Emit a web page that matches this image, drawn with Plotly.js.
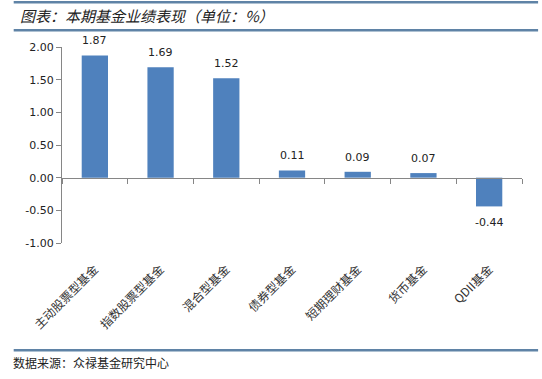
<!DOCTYPE html>
<html><head><meta charset="utf-8">
<script src="https://cdn.plot.ly/plotly-3.0.1.min.js"></script>
<style>html,body{margin:0;padding:0;background:#fff;}#chart{width:542px;height:379px;}</style>
</head><body><div id="chart"></div>
<script>
const categories = ["主动股票型基金","指数股票型基金","混合型基金","债券型基金","短期理财基金","货币基金","QDII基金"];
const values = [1.87, 1.69, 1.52, 0.11, 0.09, 0.07, -0.44];
const yTicks = [-1, -0.5, 0, 0.5, 1, 1.5, 2];
const titleText = "图表：本期基金业绩表现（单位：%）";
const sourceText = "数据来源：众禄基金研究中心";

const lineColor = "#5f83a6";
const traces = [
  {type:"bar", x:categories, y:values, xaxis:"x", yaxis:"y",
   marker:{color:"#4f81bd", line:{width:0}}, width:0.4, hoverinfo:"skip"},
  {type:"bar", x:categories, y:values, xaxis:"x2", yaxis:"y",
   marker:{color:"rgba(0,0,0,0)"}, width:0.4, hoverinfo:"skip", showlegend:false}
];
const labelAnns = categories.map((c,i)=>({
  x:c, y:values[i], xref:"x", yref:"y", text:values[i].toFixed(2), showarrow:false,
  yanchor: values[i] >= 0 ? "bottom" : "top", yshift: values[i] >= 0 ? 6 : -8,
  font:{family:"DejaVu Sans", size:11, color:"#222"}
}));
const layout = {
  width:542, height:379, showlegend:false,
  paper_bgcolor:"#fff", plot_bgcolor:"#fff",
  margin:{l:62, r:20, t:47, b:136},
  bargap:0.6,
  xaxis:{type:"category", showline:false, ticks:"", tickangle:-45, ticklabelstandoff:16,
    tickfont:{family:"Noto Sans CJK SC", size:12, color:"#333"}, showgrid:false, zeroline:false},
  xaxis2:{type:"category", overlaying:"x", matches:"x", anchor:"free", position:1/3,
    showline:true, linecolor:"#868686", linewidth:1, ticks:"outside", ticklen:5, tickcolor:"#868686",
    tickson:"boundaries", showticklabels:false, showgrid:false, zeroline:false},
  yaxis:{range:[-1,2], tickvals:yTicks, ticktext:yTicks.map(v=>v.toFixed(2)),
    showline:true, linecolor:"#868686", linewidth:1, ticks:"outside", ticklen:5, tickcolor:"#868686",
    showgrid:false, zeroline:false, tickfont:{family:"DejaVu Sans", size:11, color:"#222"}},
  shapes:[
    {type:"line", xref:"paper", yref:"paper", x0:-0.105, x1:1.035, y0:1.228, y1:1.228, line:{color:lineColor, width:2.5}},
    {type:"line", xref:"paper", yref:"paper", x0:-0.105, x1:1.035, y0:1.085, y1:1.085, line:{color:lineColor, width:2.5}},
    {type:"line", xref:"paper", yref:"paper", x0:-0.105, x1:1.035, y0:-0.547, y1:-0.547, line:{color:lineColor, width:2.5}}
  ],
  annotations:[
    {text:titleText, xref:"paper", yref:"paper", x:-0.095, y:1.16, xanchor:"left", yanchor:"middle", showarrow:false,
     font:{family:"Noto Sans CJK SC", size:15, color:"#222", style:"italic"}},
    {text:sourceText, xref:"paper", yref:"paper", x:-0.11, y:-0.61, xanchor:"left", yanchor:"middle", showarrow:false,
     font:{family:"Noto Sans CJK SC", size:12, color:"#222"}}
  ].concat(labelAnns)
};
Plotly.newPlot("chart", traces, layout, {displayModeBar:false, staticPlot:true});
</script></body></html>
